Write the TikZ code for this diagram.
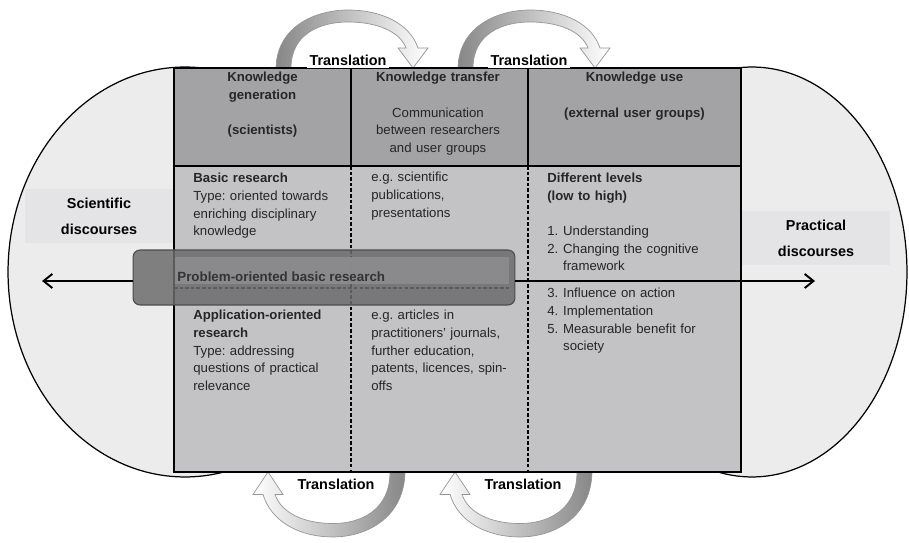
\documentclass[tikz,border=0pt]{standalone}
\usepackage{fontspec}
\setmainfont{Liberation Sans}
\usepackage{xcolor}
\usepackage{tikz}
\usetikzlibrary{arrows.meta,positioning}

\definecolor{headgray}{RGB}{163,163,166}
\definecolor{bodygray}{RGB}{195,195,198}
\definecolor{discgray}{RGB}{236,236,236}
\definecolor{labgray}{RGB}{228,228,230}
\definecolor{probgray}{RGB}{108,108,110}
\definecolor{bandgray}{RGB}{140,140,142}
\definecolor{arcgray}{RGB}{135,135,135}
\definecolor{arcline}{RGB}{150,150,150}

\begin{document}
\frenchspacing
\begin{tikzpicture}[
    x=0.02cm, y=-0.02cm,
    disc/.style={draw=black, line width=0.7pt, fill=discgray},
    disclabel/.style={fill=labgray, minimum width=2.96cm, minimum height=1.1cm, align=center, inner sep=0pt, font=\fontsize{8.2}{14.7}\selectfont\bfseries},
    cellline/.style={draw=black, line width=0.8pt},
    dashline/.style={black, line width=0.6pt, dash pattern=on 2pt off 1.2pt},
    headtext/.style={anchor=base, text width=3.4cm, align=center, inner sep=0pt, font=\fontsize{7.5}{10}\selectfont, text=black!85},
    celltext/.style={anchor=base west, text width=3.5cm, align=left, inner sep=0pt, font=\fontsize{7.5}{10}\selectfont, text=black!85},
    probbox/.style={rounded corners=4pt, draw=black!70, line width=0.6pt, fill=probgray, fill opacity=0.85, minimum width=7.64cm, minimum height=1.1cm, inner sep=0pt},
    transarc/.style={draw=arcline, line width=0.4pt},
    translabel/.style={fill=white, inner sep=1.5pt, font=\fontsize{8.2}{10}\selectfont\bfseries},
    arrow/.style={->, >={Straight Barb[length=5pt,width=8pt]}, line width=1.1pt}
]
    \useasboundingbox (0,0) rectangle (909,543);

    % discourses
    \draw[disc] (185,272) ellipse [x radius=3.54cm, y radius=4.1cm];
    \draw[disc] (752,272) ellipse [x radius=3.1cm, y radius=4.1cm];
    \node[disclabel] (sci) at (99,216) {Scientific\\discourses};
    \node[disclabel] (prac) at (816,238) {Practical\\discourses};

    % translation arcs
    \foreach \ox/\oy/\sx/\sy/\lc/\rc in {348/68/1/-1/arcgray/white, 530/68/1/-1/arcgray/white, 333/472/-1/1.12/white/arcgray, 520/472/-1/1.12/white/arcgray}
        \shade[transarc, left color=\lc, right color=\rc, shift={(\ox,\oy)}, xscale=\sx, yscale=\sy]
            (-72,0) .. controls (-71,42) and (-32,58) .. (0,58)
            .. controls (34,58) and (62,44) .. (70,20)
            -- (80,20) -- (65,0) -- (50,20) -- (58,20)
            .. controls (52,36) and (30,46) .. (0,46)
            .. controls (-28,46) and (-57,34) .. (-57,0) -- cycle;

    % table
    \fill[headgray] (174,68) rectangle (741,166);
    \fill[bodygray] (174,166) rectangle (741,472);
    \draw[dashline] (351,166) -- (351,472);
    \draw[dashline] (528,166) -- (528,472);
    \draw[dashline] (174,288) -- (510,288);
    \draw[cellline] (351,68) -- (351,166) (528,68) -- (528,166);
    \draw[cellline, line width=0.9pt] (174,166) -- (741,166);
    \draw[cellline] (174,68) rectangle (741,472);

    \node[headtext] (hgen) at (262.5,82) {\textbf{Knowledge}\\\textbf{generation}\\\mbox{}\\\textbf{(scientists)}};
    \node[headtext] (htrans) at (438,82) {\textbf{Knowledge transfer}\\\mbox{}\\Communication\\between researchers\\and user groups};
    \node[headtext, text width=4cm] (huse) at (634.5,82) {\textbf{Knowledge use}\\\mbox{}\\\textbf{(external user groups)}};

    \node[celltext] (basic) at (193,183) {\textbf{Basic research}\\Type: oriented towards\\enriching disciplinary\\knowledge};
    \node[celltext] (pubs) at (371,182) {e.g. scientific\\publications,\\presentations};
    \node[celltext] (levels) at (547,183) {\textbf{Different levels}\\\textbf{(low to high)}\\\mbox{}\\\makebox[9pt][l]{1.}Understanding\\\makebox[9pt][l]{2.}Changing the cognitive\\\hspace*{9pt}framework};
    \node[celltext] (levelsb) at (547,298) {\makebox[9pt][l]{3.}Influence on action\\\makebox[9pt][l]{4.}Implementation\\\makebox[9pt][l]{5.}Measurable benefit for\\\hspace*{9pt}society};
    \node[celltext] (applied) at (193,320) {\textbf{Application-oriented}\\\textbf{research}\\Type: addressing\\questions of practical\\relevance};
    \node[celltext] (articles) at (371,320) {e.g. articles in\\practitioners' journals,\\further education,\\patents, licences, spin-\\offs};

    % problem-oriented research
    \node[probbox] (prob) at (324,277.5) {};
    \fill[bandgray, fill opacity=0.9] (175,257) rectangle (509,284);
    \node[anchor=base west, inner sep=0pt, font=\fontsize{7.6}{10}\selectfont\bfseries, text=black!80] (probtext) at (177,282) {Problem-oriented basic research};

    \coordinate (sciend) at (42,281);
    \coordinate (pracend) at (815,281);
    \draw[arrow] (sciend -| prob.west) -- (sciend);
    \draw[arrow] (sciend -| prob.east) -- (pracend);

    \node[translabel] (trtop1) at (348,60) {Translation};
    \node[translabel] (trtop2) at (529,60) {Translation};
    \node[translabel] (trbot1) at (336,484) {Translation};
    \node[translabel] (trbot2) at (523,484) {Translation};
\end{tikzpicture}
\end{document}
